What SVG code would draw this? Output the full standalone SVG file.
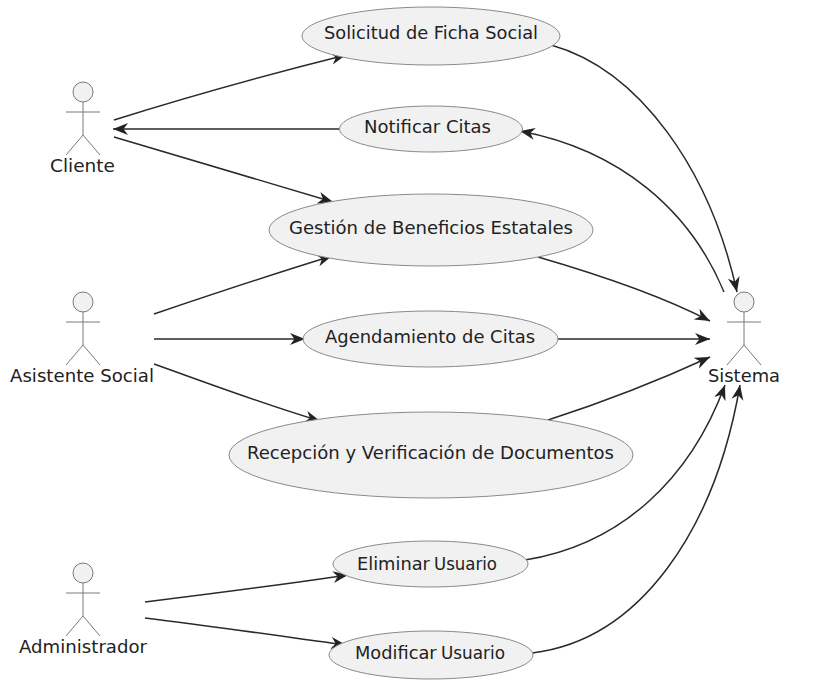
<svg xmlns="http://www.w3.org/2000/svg" width="829" height="683" viewBox="0 0 829 683">
<style>
text{font-family:"DejaVu Sans",sans-serif;font-size:17.8px;fill:#222;text-anchor:middle}
.s{text-anchor:start}
.u{fill:#f1f1f1;stroke:#8a8a8a;stroke-width:1}
.a circle{fill:#f1f1f1;stroke:#7a7a7a;stroke-width:1}
.a path{fill:none;stroke:#7a7a7a;stroke-width:1}
#c path{fill:none;stroke:#2a2a2a;stroke-width:1.5;marker-end:url(#h)}
</style>
<defs><marker id="h" markerUnits="userSpaceOnUse" markerWidth="16" markerHeight="14" refX="15" refY="7" orient="auto"><path d="M0 1L15 7L0 13L4.5 7Z" fill="#222" stroke="none"/></marker></defs>
<rect width="829" height="683" fill="#fff"/>
<g id="c">
<path d="M114 120C190 96 270 74 346 55"/>
<path d="M339 129H113"/>
<path d="M114 137C190 160 260 180 333 202"/>
<path d="M154 314C210 295 270 275 332 256"/>
<path d="M154 339H305"/>
<path d="M154 364C210 384 260 403 320 421"/>
<path d="M145 602C210 594 280 585 348 575"/>
<path d="M145 618C210 626 280 636 346 645"/>
<path d="M551 45C640 70 710 170 737 292"/>
<path d="M724 292C690 210 620 150 520 131"/>
<path d="M538 257C600 275 660 295 710 321"/>
<path d="M557 339H710"/>
<path d="M548 420C610 400 660 380 710 357"/>
<path d="M525 560C620 545 690 480 725 385"/>
<path d="M532 653C640 640 715 530 740 385"/>
</g>
<g id="cliente" class="a"><circle cx="83" cy="92" r="10"/><path d="M83 102V135M66 112H100M83 135L66 155M83 135L100 155"/><text x="82.500" y="172" textLength="65" lengthAdjust="spacingAndGlyphs">Cliente</text></g>
<g id="asistente" class="a"><circle cx="83" cy="302" r="10"/><path d="M83 312V345M66 322H100M83 345L66 365M83 345L100 365"/><text x="82" y="382" textLength="144" lengthAdjust="spacingAndGlyphs">Asistente Social</text></g>
<g id="administrador" class="a"><circle cx="83" cy="573" r="10"/><path d="M83 583V616M66 593H100M83 616L66 636M83 616L100 636"/><text x="83" y="653" textLength="128" lengthAdjust="spacingAndGlyphs">Administrador</text></g>
<g id="sistema" class="a"><circle cx="744" cy="302" r="10"/><path d="M744 312V345M727 322H761M744 345L727 365M744 345L761 365"/><text x="744" y="382" textLength="72" lengthAdjust="spacingAndGlyphs">Sistema</text></g>
<g id="u1"><ellipse class="u" cx="431" cy="36" rx="129" ry="29"/><text x="431" y="39" textLength="214" lengthAdjust="spacingAndGlyphs">Solicitud de Ficha Social</text></g>
<g id="u2"><ellipse class="u" cx="431" cy="129" rx="91.500" ry="23"/><text x="427.500" y="133" textLength="127" lengthAdjust="spacingAndGlyphs">Notificar Citas</text></g>
<g id="u3"><ellipse class="u" cx="431" cy="230" rx="162" ry="36"/><text x="431" y="234" textLength="284" lengthAdjust="spacingAndGlyphs">Gestión de Beneficios Estatales</text></g>
<g id="u4"><ellipse class="u" cx="430.500" cy="339" rx="127.500" ry="28"/><text x="430" y="343" textLength="210" lengthAdjust="spacingAndGlyphs">Agendamiento de Citas</text></g>
<g id="u5"><ellipse class="u" cx="431" cy="455" rx="202" ry="43"/><text x="430.500" y="459" textLength="367" lengthAdjust="spacingAndGlyphs">Recepción y Verificación de Documentos</text></g>
<g id="u6"><ellipse class="u" cx="430.500" cy="564" rx="97.500" ry="23"/><text class="s" x="357" y="570"><tspan>Eliminar </tspan></text><text class="s" x="434" y="570" textLength="63" lengthAdjust="spacingAndGlyphs">Usuario</text></g>
<g id="u7"><ellipse class="u" cx="431" cy="655" rx="102" ry="24"/><text class="s" x="355" y="659">Modificar</text><text class="s" x="441" y="659" textLength="64" lengthAdjust="spacingAndGlyphs">Usuario</text></g>
</svg>
